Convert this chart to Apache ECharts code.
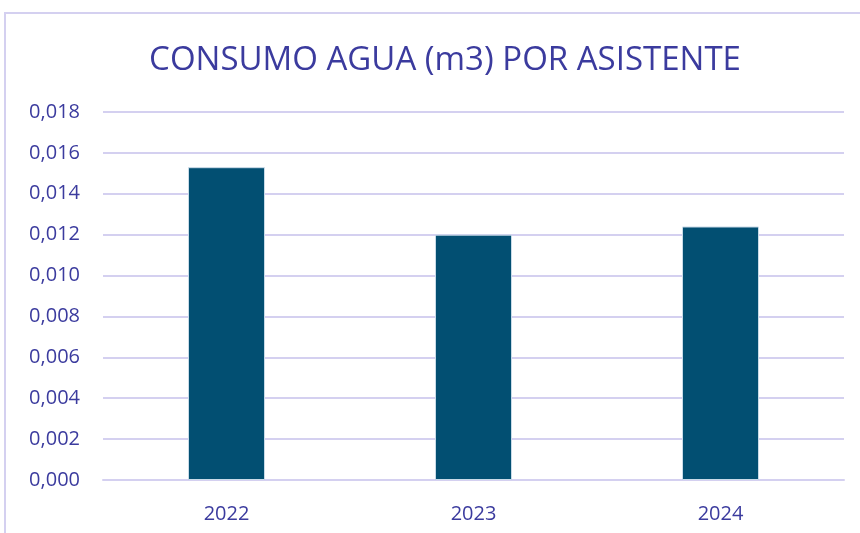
<!DOCTYPE html>
<html>
<head>
<meta charset="utf-8">
<script src="https://cdn.jsdelivr.net/npm/echarts@6/dist/echarts.min.js"></script>
<style>
  html, body { margin: 0; padding: 0; background: #fff; }
  #chart { width: 860px; height: 533px; }
</style>
</head>
<body>
<div id="chart"></div>
<script>
const years = ['2022', '2023', '2024']
const consumo = [0.0153, 0.0120, 0.0124]

const textColor = '#3b3b9e'
const lineColor = '#d4d0f0'

const chart = echarts.init(document.getElementById('chart'))
chart.setOption({
  animation: false,
  title: {
    text: 'CONSUMO AGUA (m3) POR ASISTENTE',
    left: 440,
    top: 39,
    textAlign: 'center',
    textStyle: {
      fontFamily: 'Open Sans',
      fontWeight: 'normal',
      fontSize: 33,
      color: textColor
    }
  },
  graphic: [{
    type: 'rect',
    shape: { x: 5, y: 13, width: 900, height: 600 },
    style: { fill: 'none', stroke: lineColor, lineWidth: 2 }
  }],
  grid: {
    left: 103,
    right: 16,
    top: 112,
    bottom: 53
  },
  xAxis: {
    type: 'category',
    data: years,
    axisLine: { lineStyle: { color: lineColor, width: 2 } },
    axisTick: { show: false },
    axisLabel: {
      color: textColor,
      fontFamily: 'Open Sans',
      fontSize: 20,
      margin: 24
    }
  },
  yAxis: {
    type: 'value',
    min: 0,
    max: 0.018,
    interval: 0.002,
    axisLine: { show: false },
    axisTick: { show: false },
    splitLine: { lineStyle: { color: lineColor, width: 2 } },
    axisLabel: {
      color: textColor,
      fontFamily: 'Open Sans',
      fontSize: 20,
      margin: 23,
      formatter: v => v.toFixed(3).replace('.', ',')
    }
  },
  series: [{
    type: 'bar',
    data: consumo,
    barWidth: 77,
    itemStyle: {
      color: '#024f72',
      borderColor: '#c9dbe8',
      borderWidth: 1
    }
  }]
})
</script>
</body>
</html>
